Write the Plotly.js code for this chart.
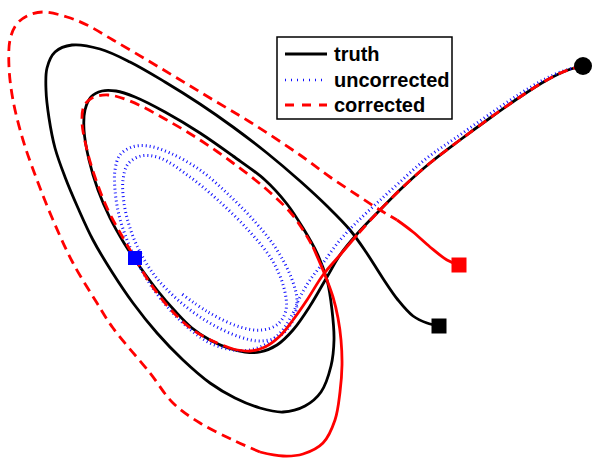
<!DOCTYPE html>
<html>
<head>
<meta charset="utf-8">
<script src="https://cdn.plot.ly/plotly-3.0.1.min.js"></script>
<style>
  html, body { margin: 0; padding: 0; background: #fff; }
  #chart { width: 592px; height: 461px; }
</style>
</head>
<body>
<div id="chart"></div>
<script>
// Trajectories (x right, y down)
const truthX = [583, 568, 547, 520, 490, 460, 430, 403, 380, 357, 340, 327, 310, 293, 277, 260, 245, 228, 210, 192, 175, 157, 140, 124, 110, 98, 89, 84, 85, 91, 102, 116, 135, 165, 200, 233, 265, 287, 303, 317, 327, 332, 334, 331, 321, 305, 283, 260, 235, 210, 183, 157, 133, 112, 93, 78, 65, 55, 49, 46, 47, 55, 72, 100, 130, 165, 200, 233, 267, 300, 328, 350, 366, 382, 398, 413, 427, 439];
const truthY = [66, 70, 80, 97, 118, 140, 163, 187, 210, 234, 255, 277, 306, 330, 345, 352, 352, 348, 340, 328, 311, 290, 267, 243, 218, 190, 160, 130, 110, 97, 91, 91, 97, 112, 133, 156, 180, 204, 228, 253, 280, 310, 340, 366, 392, 406, 412, 408, 398, 383, 360, 333, 303, 272, 240, 208, 177, 148, 118, 90, 68, 52, 45, 49, 62, 82, 104, 127, 153, 181, 207, 230, 252, 277, 300, 316, 323, 326];

const uncorrX = [583, 566, 545, 518, 487, 457, 427, 400, 377, 357, 340, 323, 310, 300, 292, 281, 266, 250, 233, 212, 192, 172, 152, 137, 127, 119, 115, 115, 120, 132, 148, 170, 200, 230, 257, 277, 291, 297, 293, 281, 262, 240, 208, 178, 155, 140, 130, 124, 123, 128, 141, 160, 190, 220, 250, 272, 284, 286, 278, 262, 240, 208, 182];
const uncorrY = [66, 70, 79, 95, 116, 137, 158, 182, 203, 222, 240, 263, 280, 297, 315, 332, 344, 350, 350, 344, 331, 312, 287, 262, 240, 215, 190, 170, 155, 147, 146, 153, 170, 196, 224, 250, 277, 300, 320, 335, 341, 337, 322, 300, 276, 252, 228, 203, 180, 164, 156, 158, 177, 202, 232, 260, 288, 310, 324, 330, 327, 312, 294];

// corrected run, split where the original drawing turns solid
const corrX = [
  [583, 568, 547, 520, 490, 460, 430, 403, 380, 357],
  [357, 340, 323, 307, 293, 280, 265, 250, 233],
  [233, 215, 193, 172, 150, 136, 122, 108, 96, 87, 82, 84, 92, 108, 130, 165, 200, 233, 265, 290, 303, 313],
  [313, 325, 333, 338, 341, 342, 340, 335, 323, 303, 283, 260],
  [260, 233, 200, 173, 150, 113, 97, 73, 53, 37, 23, 13, 9, 10, 16, 27, 43, 67, 87, 113, 147, 177, 210, 250, 300, 330, 360, 380, 397],
  [397, 413, 430, 447, 459]
];
const corrY = [
  [66, 70, 80, 97, 118, 140, 163, 187, 210, 235],
  [235, 255, 275, 300, 320, 336, 347, 351, 349],
  [349, 342, 330, 311, 283, 260, 236, 210, 180, 150, 122, 106, 98, 95, 101, 119, 140, 163, 188, 212, 230, 247],
  [247, 275, 297, 318, 340, 365, 392, 420, 443, 454, 456, 452],
  [452, 440, 423, 403, 373, 328, 303, 263, 220, 180, 140, 100, 67, 40, 25, 16, 12, 17, 25, 40, 60, 78, 98, 122, 155, 177, 197, 210, 220],
  [220, 232, 247, 260, 265]
];
const corrSolid = [false, true, false, true, false, true];

// start and end markers
const startPt = [583, 66];
const truthEnd = [439, 326];
const corrEnd = [459, 265];
const uncorrMark = [135, 258];

// legend entries
const legendNames = ["truth", "uncorrected", "corrected"];

const BLACK = "#000";
const BLUE = "#1010ff";
const RED = "#ff0000";
const RED_DASH = "10px,6px";
const BLUE_DOT = "1px,3px";

const traces = [];

traces.push({
  x: truthX, y: truthY, name: legendNames[0], type: "scatter", mode: "lines",
  line: { color: BLACK, width: 2.8, shape: "spline", smoothing: 1 },
});

traces.push({
  x: uncorrX, y: uncorrY, name: legendNames[1], type: "scatter", mode: "lines",
  line: { color: BLUE, width: 3, dash: BLUE_DOT, shape: "spline", smoothing: 1 },
});

corrX.forEach((xs, i) => {
  traces.push({
    x: xs, y: corrY[i], name: legendNames[2], type: "scatter", mode: "lines",
    line: {
      color: RED, width: 2.8, shape: "spline", smoothing: 1,
      dash: corrSolid[i] ? "solid" : RED_DASH,
    },
  });
});

function markerTrace(pt, symbol, color, size) {
  return {
    x: [pt[0]], y: [pt[1]], type: "scatter", mode: "markers",
    cliponaxis: false,
    marker: { symbol: symbol, color: color, size: size, line: { width: 0 } },
  };
}

traces.push(markerTrace(startPt, "circle", BLACK, 18));
traces.push(markerTrace(truthEnd, "square", BLACK, 15));
traces.push(markerTrace(corrEnd, "square", RED, 15));
traces.push(markerTrace(uncorrMark, "square", "#0000ff", 14));

// boxed legend, MATLAB style: 42px key then bold label
const legBox = { x0: 277, x1: 452, y0: 37, y1: 119 };
const legRows = [54, 80, 105];
const legKeys = [
  { color: BLACK, width: 2.8, dash: "solid" },
  { color: BLUE, width: 2.6, dash: "1px,5px" },
  { color: RED, width: 2.8, dash: "9px,8px" },
];

const shapes = [{
  type: "rect", xref: "x", yref: "y", layer: "above",
  x0: legBox.x0, x1: legBox.x1, y0: legBox.y0, y1: legBox.y1,
  fillcolor: "#fff", line: { color: "#000", width: 1.5 },
}];
legRows.forEach((y, i) => {
  shapes.push({
    type: "line", xref: "x", yref: "y", layer: "above",
    x0: 285, x1: 327, y0: y, y1: y,
    line: legKeys[i],
  });
});

const annotations = legRows.map((y, i) => ({
  x: 332, y: y, xref: "x", yref: "y", xanchor: "left", yanchor: "middle",
  text: legendNames[i], showarrow: false,
  font: { family: "Arial, 'Liberation Sans', sans-serif", size: 20, color: "#000", weight: "bold" },
}));

const layout = {
  width: 592,
  height: 461,
  margin: { l: 0, r: 0, t: 0, b: 0 },
  paper_bgcolor: "#fff",
  plot_bgcolor: "#fff",
  showlegend: false,
  xaxis: { range: [0, 592], visible: false, fixedrange: true },
  yaxis: { range: [461, 0], visible: false, fixedrange: true },
  shapes: shapes,
  annotations: annotations,
};

Plotly.newPlot("chart", traces, layout, { displayModeBar: false, staticPlot: true });
</script>
</body>
</html>
